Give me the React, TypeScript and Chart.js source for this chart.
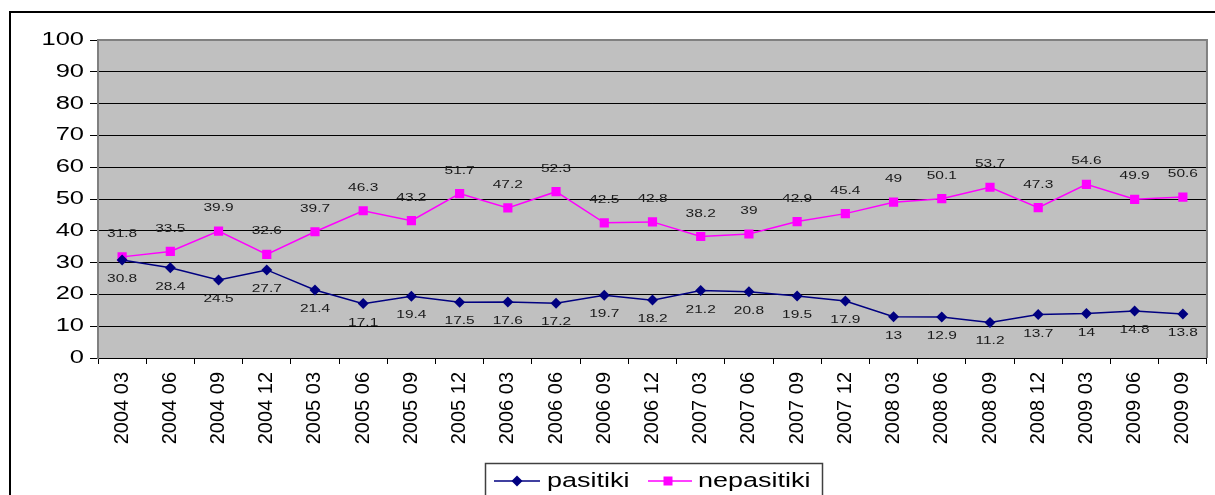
import React, { useEffect, useRef } from "react";
import { Chart, registerables } from "chart.js";

Chart.register(...registerables);

const categories = [
  "2004 03", "2004 06", "2004 09", "2004 12",
  "2005 03", "2005 06", "2005 09", "2005 12",
  "2006 03", "2006 06", "2006 09", "2006 12",
  "2007 03", "2007 06", "2007 09", "2007 12",
  "2008 03", "2008 06", "2008 09", "2008 12",
  "2009 03", "2009 06", "2009 09",
];

const pasitiki = [
  30.8, 28.4, 24.5, 27.7, 21.4, 17.1, 19.4, 17.5, 17.6, 17.2, 19.7, 18.2,
  21.2, 20.8, 19.5, 17.9, 13, 12.9, 11.2, 13.7, 14, 14.8, 13.8,
];

const nepasitiki = [
  31.8, 33.5, 39.9, 32.6, 39.7, 46.3, 43.2, 51.7, 47.2, 52.3, 42.5, 42.8,
  38.2, 39, 42.9, 45.4, 49, 50.1, 53.7, 47.3, 54.6, 49.9, 50.6,
];

const seriesNames = ["pasitiki", "nepasitiki"];

const NAVY = "#000080";
const MAGENTA = "#FF00FF";
const FONT = "Arial, 'Liberation Sans', sans-serif";
const SQUASH = 0.72;

// Text drawn wide and flat, like the rest of the sheet's lettering
function drawFlatText(ctx: CanvasRenderingContext2D, text: string, x: number, y: number, size: number, align: CanvasTextAlign, color: string) {
  ctx.save();
  ctx.translate(x, y);
  ctx.scale(1, SQUASH);
  ctx.font = `${size}px ${FONT}`;
  ctx.fillStyle = color;
  ctx.textAlign = align;
  ctx.textBaseline = "middle";
  ctx.fillText(text, 0, 0);
  ctx.restore();
}

// Grey plot background plus grey frame on top/right
const plotBackground = {
  id: "plotBackground",
  beforeDraw(chart: any) {
    const { ctx, chartArea } = chart;
    ctx.save();
    ctx.fillStyle = "#C0C0C0";
    ctx.fillRect(chartArea.left, chartArea.top, chartArea.right - chartArea.left, chartArea.bottom - chartArea.top);
    ctx.restore();
  },
  afterDatasetsDraw(chart: any) {
    const { ctx, chartArea } = chart;
    ctx.save();
    ctx.strokeStyle = "#808080";
    ctx.lineWidth = 2;
    ctx.beginPath();
    ctx.moveTo(chartArea.left, chartArea.top);
    ctx.lineTo(chartArea.right, chartArea.top);
    ctx.lineTo(chartArea.right, chartArea.bottom);
    ctx.stroke();
    ctx.restore();
  },
};

// Y tick labels placed through the value scale
const yTickLabels = {
  id: "yTickLabels",
  afterDraw(chart: any) {
    const { ctx } = chart;
    const scale = chart.scales.y;
    scale.ticks.forEach((t: any) => {
      const y = scale.getPixelForValue(t.value);
      drawFlatText(ctx, String(t.value), scale.right - 14, y, 25.5, "right", "#000");
    });
  },
};

// Value labels: below the first series, above the second
const valueLabels = {
  id: "valueLabels",
  afterDatasetsDraw(chart: any) {
    const { ctx } = chart;
    chart.data.datasets.forEach((ds: any, di: number) => {
      const meta = chart.getDatasetMeta(di);
      meta.data.forEach((pt: any, i: number) => {
        const dy = di === 0 ? 19 : -23;
        drawFlatText(ctx, String(ds.data[i]), pt.x, pt.y + dy, 15.5, "center", "#1a1a1a");
      });
    });
  },
};

// Outer frame and boxed legend at the bottom
const frameAndLegend = {
  id: "frameAndLegend",
  afterDraw(chart: any) {
    const { ctx } = chart;
    ctx.save();
    ctx.strokeStyle = "#000";
    ctx.lineWidth = 2;
    ctx.beginPath();
    ctx.moveTo(10, 500);
    ctx.lineTo(10, 12);
    ctx.lineTo(1220, 12);
    ctx.stroke();

    ctx.strokeStyle = "#404040";
    ctx.lineWidth = 1.5;
    ctx.strokeRect(485.5, 463.5, 337, 40);

    const y = 481;
    const items = [
      { x0: 494, x1: 540, mx: 517, color: NAVY, shape: "diamond", tx: 547, name: seriesNames[0] },
      { x0: 648, x1: 692, mx: 668, color: MAGENTA, shape: "square", tx: 698, name: seriesNames[1] },
    ];
    items.forEach((it) => {
      ctx.strokeStyle = it.color;
      ctx.lineWidth = 1.5;
      ctx.beginPath();
      ctx.moveTo(it.x0, y);
      ctx.lineTo(it.x1, y);
      ctx.stroke();
      ctx.fillStyle = it.color;
      ctx.beginPath();
      if (it.shape === "diamond") {
        ctx.moveTo(it.mx, y - 5.5);
        ctx.lineTo(it.mx + 5.5, y);
        ctx.lineTo(it.mx, y + 5.5);
        ctx.lineTo(it.mx - 5.5, y);
        ctx.closePath();
      } else {
        ctx.rect(it.mx - 4.5, y - 4.5, 9, 9);
      }
      ctx.fill();
      drawFlatText(ctx, it.name, it.tx, y + 1, 27, "left", "#000");
    });
    ctx.restore();
  },
};

export default function App() {
  const canvasRef = useRef<HTMLCanvasElement | null>(null);

  useEffect(() => {
    const canvas = canvasRef.current;
    if (!canvas) return;
    const chart = new Chart(canvas, {
      type: "line",
      data: {
        labels: categories,
        datasets: [
          {
            label: seriesNames[0],
            data: pasitiki,
            borderColor: NAVY,
            backgroundColor: NAVY,
            borderWidth: 1.5,
            pointStyle: "rectRot",
            pointRadius: 5.5,
            pointBorderWidth: 0,
            tension: 0,
          },
          {
            label: seriesNames[1],
            data: nepasitiki,
            borderColor: MAGENTA,
            backgroundColor: MAGENTA,
            borderWidth: 1.5,
            pointStyle: "rect",
            pointRadius: 6.5,
            pointBorderWidth: 0,
            tension: 0,
          },
        ],
      },
      options: {
        responsive: false,
        maintainAspectRatio: false,
        animation: false,
        layout: { padding: { top: 40, left: 9, right: 5, bottom: 37 } },
        plugins: {
          legend: { display: false },
          tooltip: { enabled: false },
        },
        scales: {
          x: {
            offset: true,
            grid: {
              offset: true,
              drawOnChartArea: false,
              drawTicks: true,
              tickLength: 6,
              color: "#000",
              lineWidth: 1,
            },
            border: { color: "#000", width: 1 },
            ticks: {
              color: "#000",
              font: { family: FONT, size: 20 },
              maxRotation: 90,
              minRotation: 90,
              padding: 8,
              autoSkip: false,
            },
            afterFit(scale: any) {
              scale.height = 100;
            },
          },
          y: {
            min: 0,
            max: 100,
            grid: {
              color: "#000",
              lineWidth: 1,
              tickLength: 8,
            },
            border: { color: "#808080", width: 2 },
            ticks: {
              display: false,
              stepSize: 10,
            },
            afterFit(scale: any) {
              scale.width = 89;
            },
          },
        },
      },
      plugins: [plotBackground, valueLabels, yTickLabels, frameAndLegend],
    });
    return () => chart.destroy();
  }, []);

  return (
    <div style={{ position: "fixed", left: 0, top: 0, width: 1215, height: 495, background: "#fff" }}>
      <canvas ref={canvasRef} width={1215} height={495} style={{ display: "block" }} />
    </div>
  );
}
